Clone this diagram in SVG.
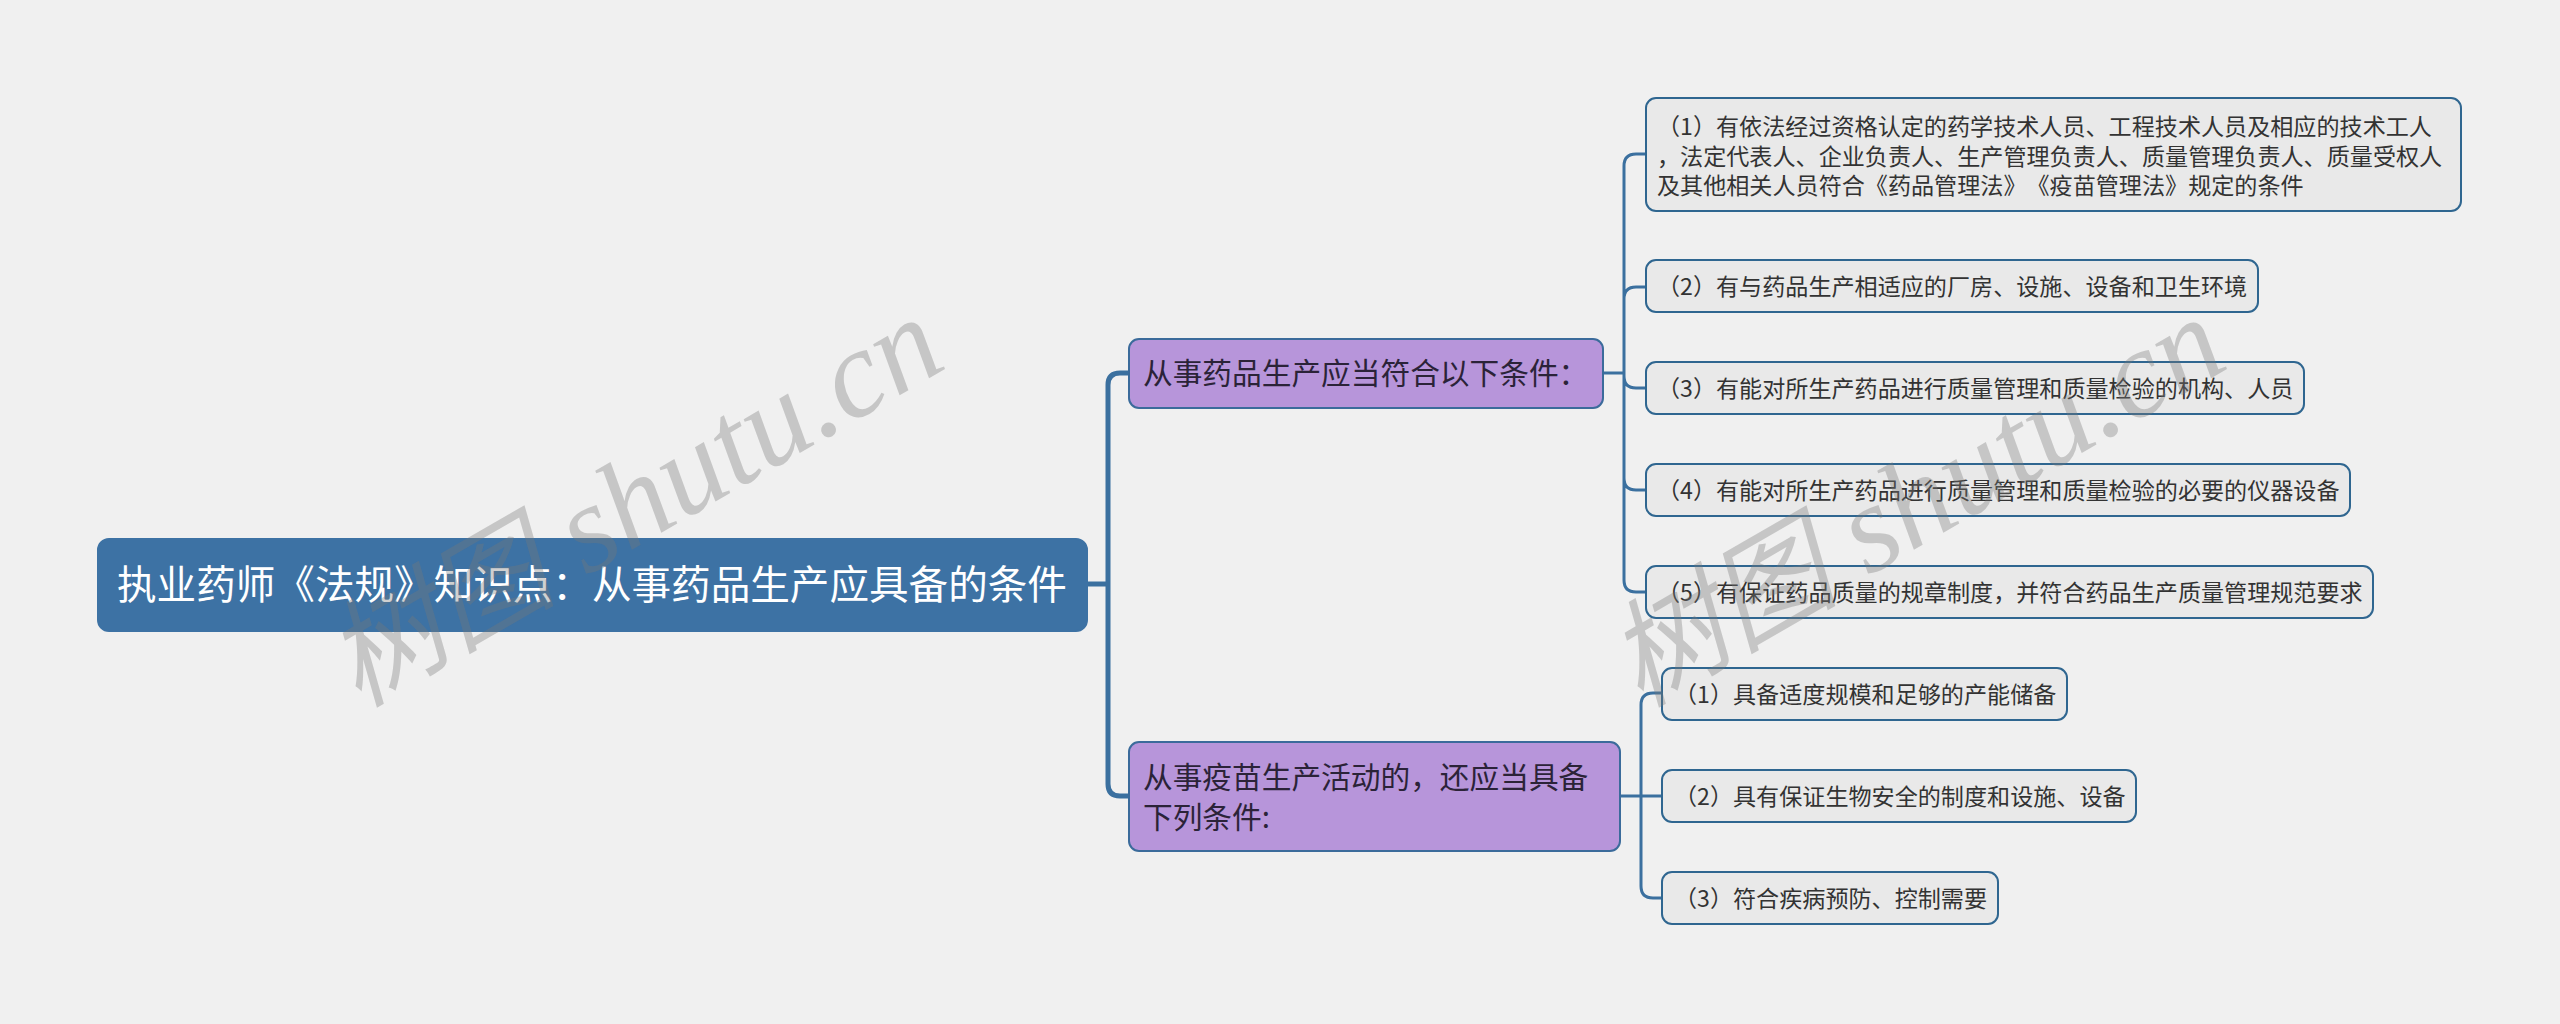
<svg xmlns="http://www.w3.org/2000/svg" width="2560" height="1024" viewBox="0 0 2560 1024">
<style>
text{font-family:"Noto Sans CJK SC","Noto Sans",sans-serif;text-spacing-trim:space-all}
.c{fill:none;stroke:#3b709f}
.c1{stroke-width:5}
.c2{stroke-width:3}
.r{fill:#3d72a4;stroke:#3d72a4;stroke-width:2}
.p{fill:#b795da;stroke:#3b6b9b;stroke-width:2}
.l{fill:#e9e9e9;stroke:#2f6690;stroke-width:2}
.rt{font-size:39.6px;fill:#fff}
.pt{font-size:29.7px;fill:#2b2338}
.lt{font-size:23.1px;fill:#333}
.w{font-family:"Liberation Serif","Noto Sans CJK SC",serif;font-style:italic;font-size:125px;fill:#777;fill-opacity:.35}
.wc{font-size:116px;font-family:"Noto Sans CJK SC",sans-serif}
</style>
<rect width="2560" height="1024" fill="#f0f0f0"/>
<g id="connectors">
<path class="c c1" d="M1087 584H1108M1129 373H1120Q1108 373 1108 385V784Q1108 796 1120 796H1129"/>
<path class="c c2" d="M1603 373H1624M1646 154H1636Q1624 154 1624 166V580Q1624 592 1636 592H1646M1646 287H1636Q1624 287 1624 299M1646 388H1636Q1624 388 1624 376M1646 490H1636Q1624 490 1624 478"/>
<path class="c c2" d="M1620 796H1662M1662 693H1653Q1641 693 1641 705V886Q1641 898 1653 898H1662"/>
</g>
<g id="root"><rect class="r" x="98" y="539" width="989" height="92" rx="11"/><text class="rt" x="117" y="599">执业药师《法规》知识点：从事药品生产应具备的条件</text></g>
<g id="branch-1"><rect class="p" x="1129" y="339" width="474" height="69" rx="10"/><text class="pt" x="1143" y="384">从事药品生产应当符合以下条件：</text></g>
<g id="branch-2"><rect class="p" x="1129" y="742" width="491" height="109" rx="10"/><text class="pt" x="1143" y="788">从事疫苗生产活动的，还应当具备</text><text class="pt" x="1143" y="828">下列条件:</text></g>
<g id="a1"><rect class="l" x="1646" y="98" width="815" height="113" rx="10"/><text class="lt" x="1657" y="135">（1）有依法经过资格认定的药学技术人员、工程技术人员及相应的技术工人</text><text class="lt" x="1657" y="164.500">，法定代表人、企业负责人、生产管理负责人、质量管理负责人、质量受权人</text><text class="lt" x="1657" y="194">及其他相关人员符合《药品管理法》《疫苗管理法》规定的条件</text></g>
<g id="a2"><rect class="l" x="1646" y="260" width="612" height="52" rx="10"/><text class="lt" x="1657" y="295">（2）有与药品生产相适应的厂房、设施、设备和卫生环境</text></g>
<g id="a3"><rect class="l" x="1646" y="362" width="658" height="52" rx="10"/><text class="lt" x="1657" y="397">（3）有能对所生产药品进行质量管理和质量检验的机构、人员</text></g>
<g id="a4"><rect class="l" x="1646" y="464" width="704" height="52" rx="10"/><text class="lt" x="1657" y="499">（4）有能对所生产药品进行质量管理和质量检验的必要的仪器设备</text></g>
<g id="a5"><rect class="l" x="1646" y="566" width="727" height="52" rx="10"/><text class="lt" x="1657" y="601">（5）有保证药品质量的规章制度，并符合药品生产质量管理规范要求</text></g>
<g id="b1"><rect class="l" x="1662" y="668" width="405" height="52" rx="10"/><text class="lt" x="1674" y="703">（1）具备适度规模和足够的产能储备</text></g>
<g id="b2"><rect class="l" x="1662" y="770" width="474" height="52" rx="10"/><text class="lt" x="1674" y="805">（2）具有保证生物安全的制度和设施、设备</text></g>
<g id="b3"><rect class="l" x="1662" y="872" width="336" height="52" rx="10"/><text class="lt" x="1674" y="907">（3）符合疾病预防、控制需要</text></g>
<text class="w" transform="translate(358 708) rotate(-30)"><tspan class="wc">树图</tspan> shutu.cn</text>
<text class="w" transform="translate(1640 708) rotate(-30)"><tspan class="wc">树图</tspan> shutu.cn</text>
</svg>
